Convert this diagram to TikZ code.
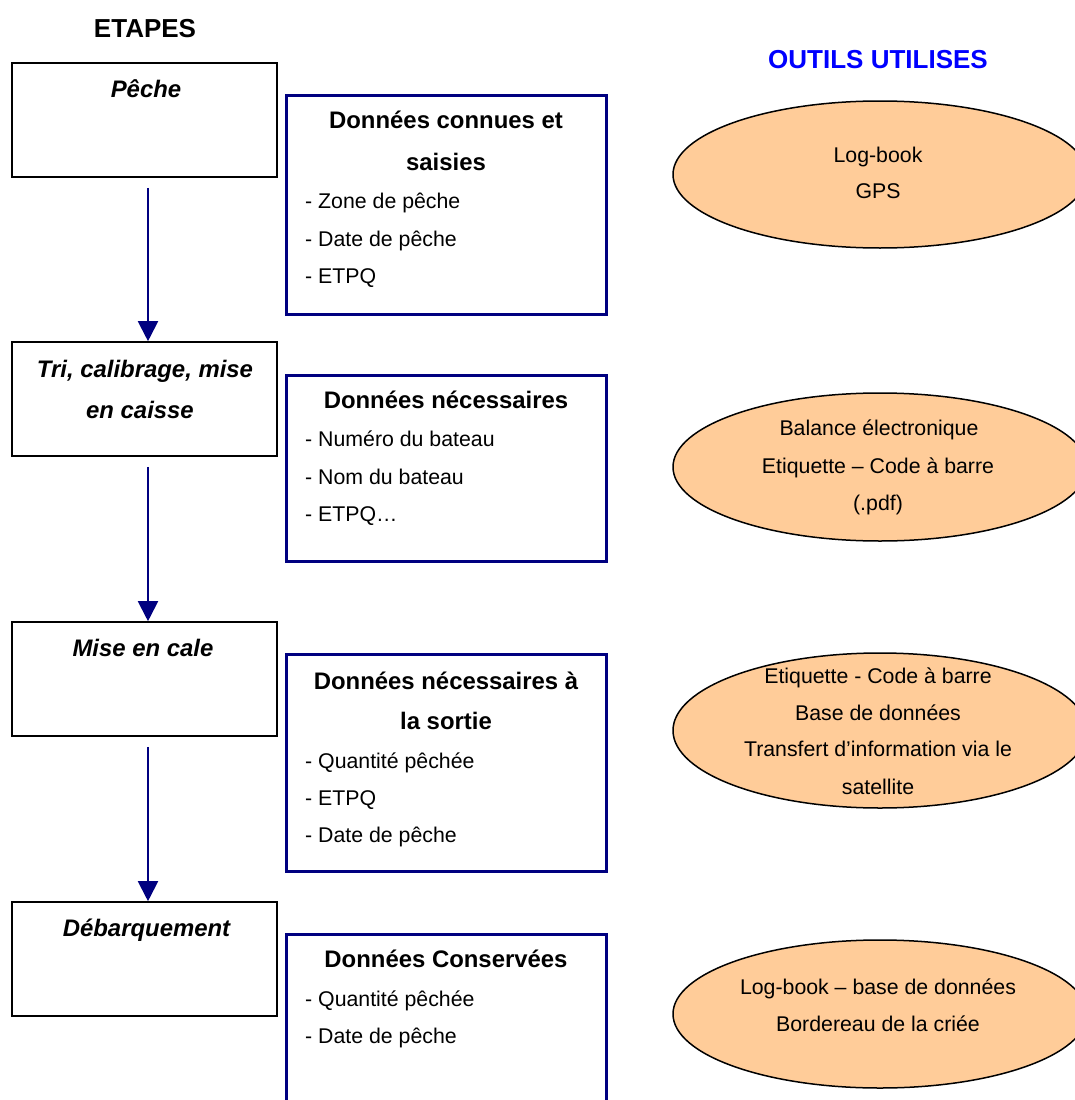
\documentclass[tikz,border=0pt]{standalone}
\usepackage{fontspec}
\setmainfont{Liberation Sans}
\usetikzlibrary{arrows.meta,shapes.geometric}
\definecolor{navyline}{RGB}{0,0,128}
\definecolor{toolblue}{RGB}{0,0,255}
\definecolor{peach}{RGB}{255,204,153}
\newcommand{\bodyfont}{\fontsize{21.3}{25}\selectfont}
\newcommand{\headfont}{\fontsize{23.9}{28}\selectfont\bfseries}
\newcommand{\stepfont}{\fontsize{23.9}{28}\selectfont\bfseries\itshape}
\newcommand{\titlefont}{\fontsize{26}{30}\selectfont\bfseries}
\begin{document}
\begin{tikzpicture}[x=1pt,y=-1pt,
  stepbox/.style={draw=black,line width=1.6pt,minimum width=265pt,minimum height=114pt,inner sep=0pt},
  databox/.style={draw=navyline,line width=3pt,minimum width=320pt,inner sep=0pt},
  toolell/.style={ellipse,draw=black,line width=1.5pt,fill=peach,minimum width=414pt,inner sep=0pt},
  flow/.style={draw=navyline,line width=2pt,-{Triangle[width=20pt,length=20pt]},shorten <=10pt},
  steptitle/.style={anchor=base,inner sep=0pt,font=\stepfont},
  headline/.style={anchor=base,inner sep=0pt,font=\headfont},
  item/.style={anchor=base west,inner sep=0pt,font=\bodyfont},
  tooltext/.style={anchor=base,inner sep=0pt,font=\bodyfont}]
\clip (0,0) rectangle (1075,1100);
\fill[white] (0,0) rectangle (1075,1100);

% column headings
\node[anchor=base,inner sep=0pt,font=\titlefont] (etapes) at (145,37) {ETAPES};
\node[anchor=base,inner sep=0pt,font=\titlefont,text=toolblue] (outils) at (878,68) {OUTILS UTILISES};

% steps
\node[stepbox] (s1) at (144.5,120) {};
\node[stepbox] (s2) at (144.5,399) {};
\node[stepbox] (s3) at (144.5,679) {};
\node[stepbox] (s4) at (144.5,959) {};
\node[steptitle] (s1t) at (146,97) {Pêche};
\node[steptitle] (s2t) at (145,377) {Tri, calibrage, mise};
\node[steptitle] (s2u) at (140,418) {en caisse};
\node[steptitle] (s3t) at (143,656) {Mise en cale};
\node[steptitle] (s4t) at (146.5,936) {Débarquement};

% flow between steps
\draw[flow] ([xshift=3.5pt]s1.south) -- ([xshift=3.5pt]s2.north);
\draw[flow] ([xshift=3.5pt]s2.south) -- ([xshift=3.5pt]s3.north);
\draw[flow] ([xshift=3.5pt]s3.south) -- ([xshift=3.5pt]s4.north);

% data boxes
\node[databox,minimum height=219pt] (d1) at (446,204.5) {};
\node[databox,minimum height=186pt] (d2) at (446,468) {};
\node[databox,minimum height=217pt] (d3) at (446,762.5) {};
\node[databox,minimum height=200pt] (d4) at (446,1034) {};

\node[headline] (d1h) at (446,128.5) {Données connues et};
\node[headline] (d1k) at (446,170.5) {saisies};
\node[item] (d1a) at (305,208.5) {- Zone de pêche};
\node[item] (d1b) at (305,246.5) {- Date de pêche};
\node[item] (d1c) at (305,283.5) {- ETPQ};

\node[headline] (d2h) at (446,408.5) {Données nécessaires};
\node[item] (d2a) at (305,446.5) {- Numéro du bateau};
\node[item] (d2b) at (305,484.5) {- Nom du bateau};
\node[item] (d2c) at (305,521.5) {- ETPQ…};

\node[headline] (d3h) at (446,689.5) {Données nécessaires à};
\node[headline] (d3k) at (446,729.5) {la sortie};
\node[item] (d3a) at (305,768.5) {- Quantité pêchée};
\node[item] (d3b) at (305,805.5) {- ETPQ};
\node[item] (d3c) at (305,842.5) {- Date de pêche};

\node[headline] (d4h) at (446,967.5) {Données Conservées};
\node[item] (d4a) at (305,1006.5) {- Quantité pêchée};
\node[item] (d4b) at (305,1043.5) {- Date de pêche};

% tools
\node[toolell,minimum height=147pt] (t1) at (880,174.5) {};
\node[toolell,minimum height=148pt] (t2) at (880,467) {};
\node[toolell,minimum height=155pt] (t3) at (880,730.5) {};
\node[toolell,minimum height=148pt] (t4) at (880,1014) {};

\node[tooltext] (t1a) at (878,162.5) {Log-book};
\node[tooltext] (t1b) at (878,198.5) {GPS};

\node[tooltext] (t2a) at (879,435.5) {Balance électronique};
\node[tooltext] (t2b) at (878,473.5) {Etiquette – Code à barre};
\node[tooltext] (t2c) at (878,510.5) {(.pdf)};

\node[tooltext] (t3a) at (878,683.5) {Etiquette - Code à barre};
\node[tooltext] (t3b) at (878,720.5) {Base de données};
\node[tooltext] (t3c) at (878,756.5) {Transfert d’information via le};
\node[tooltext] (t3d) at (878,794.5) {satellite};

\node[tooltext] (t4a) at (878,994.5) {Log-book – base de données};
\node[tooltext] (t4b) at (878,1031.5) {Bordereau de la criée};
\end{tikzpicture}
\end{document}
